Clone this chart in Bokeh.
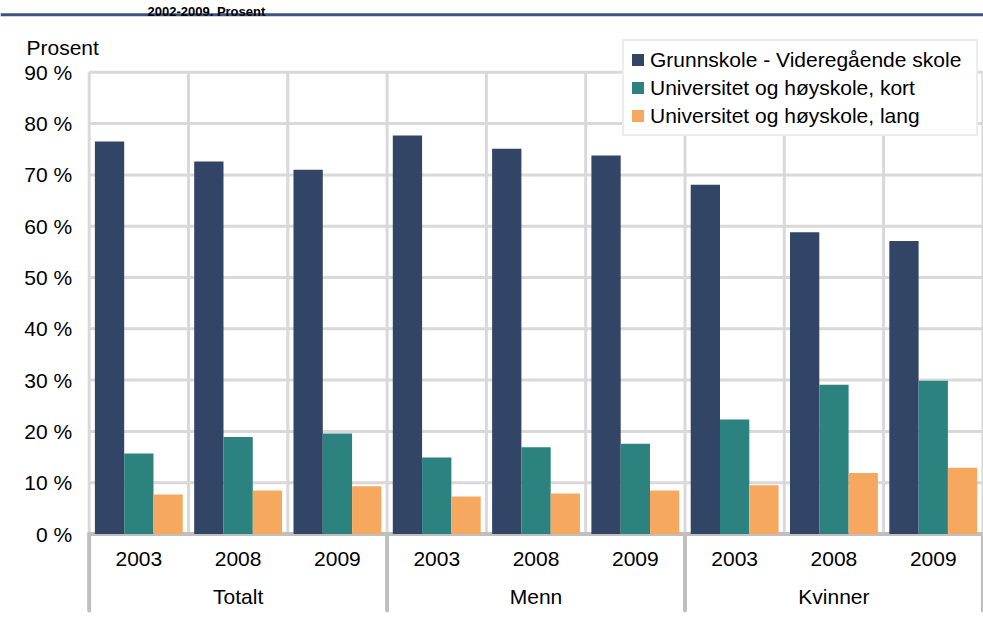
from bokeh.plotting import figure
from bokeh.models import (Legend, LegendItem, Label, FixedTicker, LinearAxis,
                          ColumnDataSource, Range1d, Span)
from bokeh.transform import dodge
from bokeh.embed import file_html
from bokeh.resources import INLINE

# ---------------- data ----------------
groups = ["Totalt", "Menn", "Kvinner"]
years = ["2003", "2008", "2009"]
series_names = ["Grunnskole - Videregående skole",
                "Universitet og høyskole, kort",
                "Universitet og høyskole, lang"]
grunnskole = [76.5, 72.6, 71.0, 77.7, 75.1, 73.8, 68.1, 58.8, 57.1]
hoyskole_kort = [15.7, 18.9, 19.6, 14.9, 16.9, 17.6, 22.3, 29.1, 29.9]
hoyskole_lang = [7.7, 8.5, 9.3, 7.3, 7.9, 8.5, 9.5, 11.9, 12.9]
y_ticks = [0, 10, 20, 30, 40, 50, 60, 70, 80, 90]
y_tick_labels = ["0 %", "10 %", "20 %", "30 %", "40 %", "50 %", "60 %", "70 %", "80 %", "90 %"]
title_text = "2002-2009. Prosent"
unit_text = "Prosent"

# ---------------- styles ----------------
FONT = "Liberation Sans"
FS = "21px"
colors = ["#334566", "#2c827f", "#f6a95e"]
grid_col = "#d9d9d9"
axis_col = "#bfbfbf"
rule_col = "#3d5380"
W, H = 983, 620

n_years = len(years)
n = len(groups) * n_years
cat_labels = [y for g in groups for y in years]
centers = [i + 0.5 for i in range(n)]
group_centers = [gi * n_years + n_years / 2 for gi in range(len(groups))]

src = ColumnDataSource(dict(x=centers, a=grunnskole, b=hoyskole_kort, c=hoyskole_lang))

p = figure(x_range=Range1d(-0.893, 9.006), y_range=Range1d(-16.86, 104.0),
           width=W, height=H, output_backend="svg", toolbar_location=None,
           min_border_left=0, min_border_right=0, min_border_top=0, min_border_bottom=0)
p.outline_line_color = None
p.background_fill_color = "white"
p.border_fill_color = "white"
p.xgrid.visible = False
p.ygrid.visible = False

# horizontal grid lines
hg = y_ticks[1:]
p.segment(x0=[0] * len(hg), y0=hg, x1=[n] * len(hg), y1=hg, line_color=grid_col, line_width=3)
# vertical grid lines at category boundaries
bounds = list(range(n + 1))
p.segment(x0=bounds, y0=[0] * len(bounds), x1=bounds, y1=[y_ticks[-1]] * len(bounds),
          line_color=grid_col, line_width=3)
# group separators below the axis
sep = [gi * n_years for gi in range(len(groups) + 1)]
p.segment(x0=sep, y0=[0] * len(sep), x1=sep, y1=[-14.9] * len(sep),
          line_color=axis_col, line_width=4, line_cap="round")
# axis base line
p.segment(x0=[0], y0=[0], x1=[n], y1=[0], line_color=axis_col, line_width=4, line_cap="round")

w = 0.295
r1 = p.vbar(x=dodge("x", -w), top="a", width=w, source=src, fill_color=colors[0], line_color=None)
r2 = p.vbar(x=dodge("x", 0), top="b", width=w, source=src, fill_color=colors[1], line_color=None)
r3 = p.vbar(x=dodge("x", w), top="c", width=w, source=src, fill_color=colors[2], line_color=None)

def style_axis(ax):
    ax.axis_line_color = None
    ax.major_tick_line_color = None
    ax.minor_tick_line_color = None
    ax.major_tick_out = 0
    ax.major_tick_in = 0
    ax.minor_tick_out = 0
    ax.minor_tick_in = 0
    ax.major_label_text_font = FONT
    ax.major_label_text_font_size = FS
    ax.major_label_text_color = "black"

# x axis: year labels
xa = p.xaxis[0]
style_axis(xa)
xa.fixed_location = 0
xa.ticker = FixedTicker(ticks=centers)
xa.major_label_overrides = {c: l for c, l in zip(centers, cat_labels)}
xa.major_label_standoff = 18

# second x axis: group labels
xg = LinearAxis(fixed_location=0, ticker=FixedTicker(ticks=group_centers),
                major_label_overrides={c: g for c, g in zip(group_centers, groups)})
style_axis(xg)
xg.major_label_standoff = 51
p.add_layout(xg, "below")

# y axis
ya = p.yaxis[0]
style_axis(ya)
ya.fixed_location = 0
ya.ticker = FixedTicker(ticks=y_ticks)
ya.major_label_overrides = {t: l for t, l in zip(y_ticks, y_tick_labels)}
ya.major_label_standoff = 17

# top rule and title
p.add_layout(Span(location=101.2, dimension="width", line_color=rule_col, line_width=3))
p.add_layout(Label(x=147, y=H - 11, x_units="screen", y_units="screen", text=title_text,
                   text_font=FONT, text_font_size="13px", text_font_style="bold",
                   text_color="black", text_baseline="alphabetic", text_align="left"))
# unit label
p.add_layout(Label(x=26, y=H - 47, x_units="screen", y_units="screen", text=unit_text,
                   text_font=FONT, text_font_size=FS, text_color="black",
                   text_baseline="middle", text_align="left"))

legend = Legend(items=[LegendItem(label=series_names[0], renderers=[r1]),
                       LegendItem(label=series_names[1], renderers=[r2]),
                       LegendItem(label=series_names[2], renderers=[r3])],
                location=(622, H - 136), orientation="vertical",
                label_text_font=FONT, label_text_font_size=FS, label_text_color="black",
                glyph_width=15, glyph_height=15, label_standoff=5, spacing=3,
                label_height=25, label_width=320,
                padding=6, margin=0, border_line_color=grid_col, border_line_width=2,
                background_fill_color="white", background_fill_alpha=1)
p.add_layout(legend)

open("out.html", "w").write(file_html(p, INLINE))
